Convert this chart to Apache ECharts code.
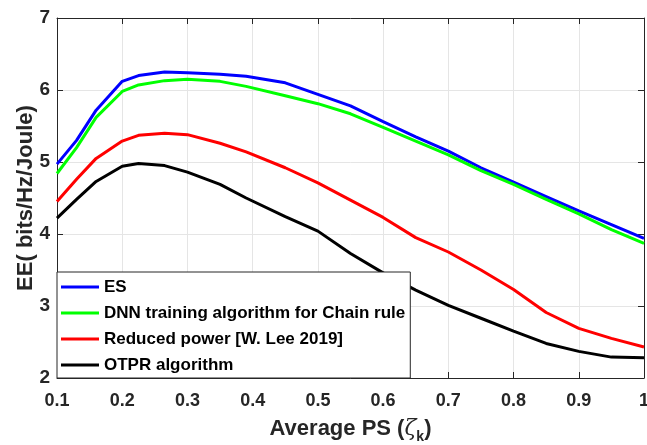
<!DOCTYPE html>
<html>
<head>
<meta charset="utf-8">
<script src="https://cdn.jsdelivr.net/npm/echarts@6/dist/echarts.min.js"></script>
<style>
html,body{margin:0;padding:0;background:#fff;}
#c{width:647px;height:445px;}
</style>
</head>
<body>
<div id="c"></div>
<script>
var xValues = [0.1,0.13,0.16,0.2,0.225,0.265,0.3,0.35,0.39,0.45,0.5,0.55,0.6,0.65,0.7,0.75,0.8,0.85,0.9,0.95,1.0];
var esValues = [4.97,5.30,5.72,6.12,6.20,6.25,6.24,6.22,6.19,6.10,5.94,5.78,5.56,5.35,5.15,4.92,4.72,4.52,4.32,4.13,3.94];
var dnnValues = [4.84,5.20,5.62,5.98,6.07,6.13,6.15,6.12,6.05,5.92,5.81,5.67,5.48,5.29,5.10,4.88,4.69,4.48,4.28,4.06,3.87];
var reducedValues = [4.45,4.76,5.05,5.29,5.37,5.40,5.38,5.26,5.14,4.92,4.71,4.47,4.23,3.95,3.75,3.50,3.23,2.91,2.69,2.55,2.43];
var otprValues = [4.22,4.48,4.73,4.94,4.98,4.95,4.86,4.69,4.50,4.24,4.04,3.73,3.46,3.22,3.01,2.83,2.65,2.48,2.37,2.29,2.28];
var seriesNames = ['ES','DNN training algorithm for Chain rule','Reduced power [W. Lee 2019]','OTPR algorithm'];
var seriesColors = ['#0000ff','#00ff00','#ff0000','#000000'];
var xTicks = {min:0.1, max:1, interval:0.1};
var yTicks = {min:2, max:7, interval:1};

function pairs(ys){ return xValues.map(function(x,i){ return [x, ys[i]]; }); }
var allValues = [esValues, dnnValues, reducedValues, otprValues];

var FONT = 'Arial, "Liberation Sans", Helvetica, sans-serif';
var TXT = '#262626';

var chart = echarts.init(document.getElementById('c'), null, {renderer:'canvas'});
var option = {
  backgroundColor:'#fff',
  animation:false,
  grid:{left:57, right:3, top:18, bottom:67, containLabel:false, outerBoundsMode:'none'},
  xAxis:[{
    type:'value', min:xTicks.min, max:xTicks.max, interval:xTicks.interval, position:'bottom',
    axisLine:{show:true, lineStyle:{color:TXT, width:1}},
    axisTick:{show:true, inside:true, length:6, lineStyle:{color:TXT}},
    splitLine:{show:true, lineStyle:{color:'#e5e5e5', width:1}},
    axisLabel:{color:TXT, fontSize:18, fontWeight:'bold', fontFamily:FONT, margin:14,
      formatter:function(v){ return String(+(+v).toFixed(1)); }},
    name:'{a|Average PS (}{z|ζ}{s|k}{a|)}',
    nameLocation:'middle', nameGap:40, nameMoveOverlap:false,
    nameTextStyle:{
      rich:{
        a:{fontSize:22, fontWeight:'bold', color:TXT, fontFamily:FONT, verticalAlign:'top', lineHeight:24},
        z:{fontSize:22, fontStyle:'italic', color:TXT, fontFamily:'"DejaVu Serif", serif', verticalAlign:'top', lineHeight:24},
        s:{fontSize:14, fontWeight:'bold', color:TXT, fontFamily:FONT, verticalAlign:'top', lineHeight:14, padding:[12,0,0,0]}
      }
    }
  },{
    type:'value', min:xTicks.min, max:xTicks.max, interval:xTicks.interval, position:'top',
    axisLine:{show:true, lineStyle:{color:TXT, width:1}},
    axisTick:{show:true, inside:true, length:6, lineStyle:{color:TXT}},
    splitLine:{show:false}, axisLabel:{show:false}
  }],
  yAxis:[{
    type:'value', min:yTicks.min, max:yTicks.max, interval:yTicks.interval, position:'left',
    axisLine:{show:true, lineStyle:{color:TXT, width:1}},
    axisTick:{show:true, inside:true, length:6, lineStyle:{color:TXT}},
    splitLine:{show:true, lineStyle:{color:'#e5e5e5', width:1}},
    axisLabel:{color:TXT, fontSize:19, fontWeight:'bold', fontFamily:FONT, margin:7},
    name:'EE( bits/Hz/Joule)', nameLocation:'middle', nameRotate:90, nameGap:20, nameMoveOverlap:false,
    nameTextStyle:{fontSize:22, fontWeight:'bold', color:TXT, fontFamily:FONT}
  },{
    type:'value', min:yTicks.min, max:yTicks.max, interval:yTicks.interval, position:'right',
    axisLine:{show:true, lineStyle:{color:TXT, width:1}},
    axisTick:{show:true, inside:true, length:6, lineStyle:{color:TXT}},
    splitLine:{show:false}, axisLabel:{show:false}
  }],
  legend:{
    orient:'vertical', left:57, top:272,
    padding:[5,5,3,4],
    backgroundColor:'#fff', borderColor:TXT, borderWidth:1, borderRadius:0,
    itemWidth:38, itemHeight:3, itemGap:6, icon:'rect',
    textStyle:{fontSize:17, fontWeight:'bold', color:'#000', fontFamily:FONT, lineHeight:20},
    data:seriesNames
  },
  series: seriesNames.map(function(n,i){
    return {
      name:n, type:'line', xAxisIndex:0, yAxisIndex:0,
      data:pairs(allValues[i]), showSymbol:false, symbol:'none',
      lineStyle:{color:seriesColors[i], width:3}, itemStyle:{color:seriesColors[i]},
      z:2
    };
  })
};
chart.setOption(option);
</script>
</body>
</html>
